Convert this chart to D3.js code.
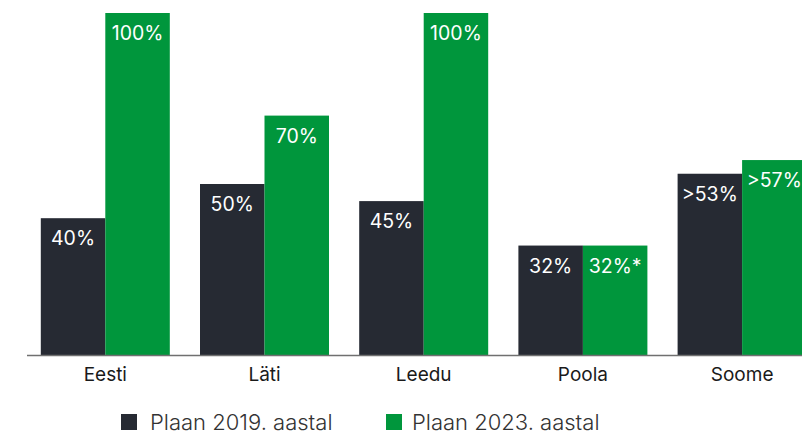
<!DOCTYPE html>
<html><head><meta charset="utf-8">
<script src="https://cdn.jsdelivr.net/npm/d3@7"></script>
<style>html,body{margin:0;padding:0;background:#fff;overflow:hidden}</style>
</head><body>
<svg id="c" width="802" height="435"></svg>
<script>
const categories = ["Eesti", "Läti", "Leedu", "Poola", "Soome"];
const seriesNames = ["Plaan 2019. aastal", "Plaan 2023. aastal"];
const values2019 = [40, 50, 45, 32, 53];
const values2023 = [100, 70, 100, 32, 57];
const labels2019 = ["40%", "50%", "45%", "32%", ">53%"];
const labels2023 = ["100%", "70%", "100%", "32%*", ">57%"];
const colors = ["#262a33", "#00963c"];

const svg = d3.select("#c");
const font = "Inter, 'DejaVu Sans', sans-serif";

const x = d3.scaleBand().domain(categories).range([25.7, 821.7]).paddingInner(30.2/159.2).paddingOuter(15.1/159.2);
const x1 = d3.scaleBand().domain([0, 1]).range([0, x.bandwidth()]);
const y = d3.scaleLinear().domain([0, 100]).range([355, 13]);

const data = [];
categories.forEach((c, i) => {
  data.push({cat: c, s: 0, v: values2019[i], lab: labels2019[i]});
  data.push({cat: c, s: 1, v: values2023[i], lab: labels2023[i]});
});

svg.selectAll("rect.bar").data(data).join("rect")
  .attr("class", "bar")
  .attr("x", d => x(d.cat) + x1(d.s))
  .attr("y", d => y(d.v))
  .attr("width", x1.bandwidth())
  .attr("height", d => y(0) - y(d.v))
  .attr("fill", d => colors[d.s]);

svg.selectAll("text.val").data(data).join("text")
  .attr("class", "val")
  .attr("x", d => x(d.cat) + x1(d.s) + x1.bandwidth() / 2)
  .attr("y", d => y(d.v) + 27)
  .attr("text-anchor", "middle")
  .attr("fill", "#fff")
  .style("font-family", font)
  .style("font-size", "19.5px")
  .text(d => d.lab);

// axis baseline
svg.append("line").attr("x1", 27).attr("x2", 802).attr("y1", y(0) + 0.5).attr("y2", y(0) + 0.5)
  .attr("stroke", "#707070").attr("stroke-width", 1.5);

const ax = svg.append("g").attr("transform", `translate(0,${y(0)})`)
  .call(d3.axisBottom(x).tickSize(0).tickPadding(0).tickFormat(d => d));
ax.select(".domain").remove();
ax.selectAll("text").attr("dy", null).attr("y", 26)
  .style("font-family", font).style("font-size", "19px").style("font-weight", 400).attr("fill", "#1a1a1a");

// legend
const legX = [121, 386];
const legTextX = [150, 412];
seriesNames.forEach((n, i) => {
  svg.append("rect").attr("x", legX[i]).attr("y", 414).attr("width", 16).attr("height", 16).attr("fill", colors[i]);
  svg.append("text").attr("x", legTextX[i]).attr("y", 430)
    .style("font-family", font).style("font-size", "22px").style("font-weight", 300)
    .attr("fill", "#333").text(n);
});
</script>
</body></html>
